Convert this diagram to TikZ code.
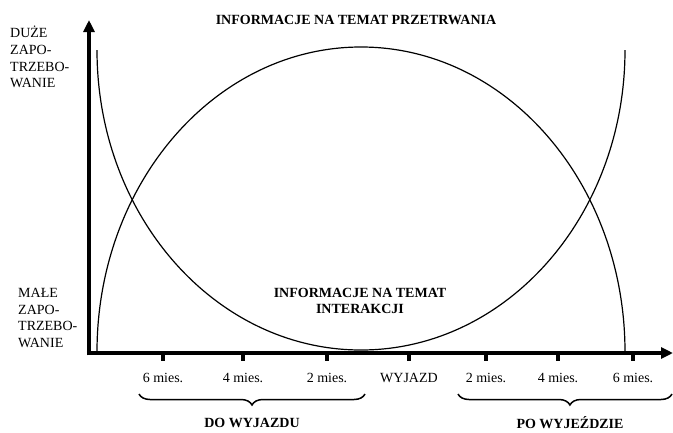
\documentclass[tikz,border=0pt]{standalone}
\usepackage{fontspec}
\setmainfont{Liberation Serif}
\usetikzlibrary{arrows.meta,decorations.pathreplacing}
\begin{document}
\begin{tikzpicture}[x=1pt,y=-1pt,
  axis/.style={line width=4.5pt},
  curve/.style={line width=1.2pt},
  tickmark/.style={line width=4pt},
  lbl/.style={font=\fontsize{14}{16.7}\selectfont, inner sep=0pt},
  blbl/.style={font=\fontsize{14}{16.7}\selectfont\bfseries, inner sep=0pt},
  bracestyle/.style={decorate, decoration={brace,mirror,amplitude=11pt,#1}, line width=1.5pt},
  bracestyle/.default={aspect=0.5}
]
\useasboundingbox (0,0) rectangle (673,432);
% curves
\draw[curve] (97,352) arc[start angle=180, end angle=360, x radius=264, y radius=305];
\draw[curve] (97,50) arc[start angle=180, end angle=0, x radius=264, y radius=300];
% axes
\coordinate (O) at (89,353);
\coordinate (Ybot) at (89,355.25);
\coordinate (Ytop) at (89,20);
\coordinate (Xbeg) at (86.75,353);
\coordinate (Xend) at (673,353);
\draw[axis,-{Triangle[length=12pt,width=11pt]}] (Ybot) -- (Ytop);
\draw[axis,-{Triangle[length=12pt,width=11pt]}] (Xbeg) -- (Xend);
% ticks and labels
\foreach \x/\t [count=\i] in {163/6 mies., 243/4 mies., 327/2 mies., 409/WYJAZD, 486/2 mies., 558/4 mies., 633/6 mies.}{
  \coordinate (t\i) at (\x,353);
  \draw[tickmark] (t\i) -- ++(0,8);
  \node[lbl] (tl\i) at (\x,378) {\t};
}
% braces
\coordinate (b1s) at (139,394);
\coordinate (b1e) at (365,394);
\coordinate (b2s) at (458,394);
\coordinate (b2e) at (672,394);
\draw[bracestyle] (b1s) -- (b1e);
\draw[bracestyle={aspect=0.523}] (b2s) -- (b2e);
\node[blbl] (before) at (252,423) {DO WYJAZDU};
\node[blbl] (after) at (570,423) {PO WYJEŹDZIE};
% titles
\node[blbl] (surv) at (356,20) {INFORMACJE NA TEMAT PRZETRWANIA};
\node[blbl, align=center] (inter) at (360,301) {INFORMACJE NA TEMAT\\INTERAKCJI};
% y labels
\node[lbl, align=left, anchor=west] (high) at (10,57) {DUŻE\\ZAPO-\\TRZEBO-\\WANIE};
\node[lbl, align=left, anchor=west] (low) at (18,318) {MAŁE\\ZAPO-\\TRZEBO-\\WANIE};
\end{tikzpicture}
\end{document}
